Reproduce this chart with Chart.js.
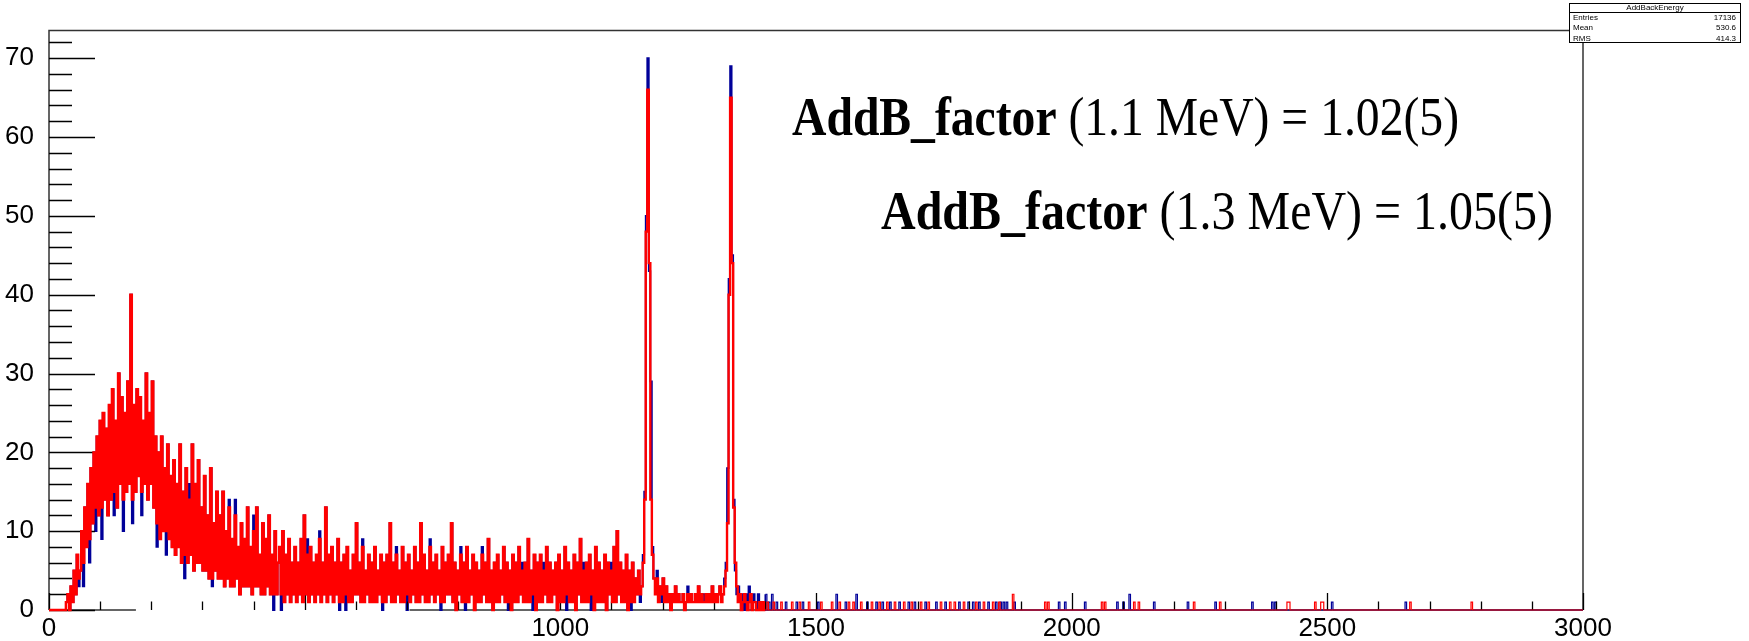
<!DOCTYPE html>
<html>
<head>
<meta charset="utf-8">
<title>AddBackEnergy</title>
<script src="https://cdn.jsdelivr.net/npm/chart.js@4.4.1/dist/chart.umd.min.js"></script>
<style>
  html, body { margin: 0; padding: 0; background: #fff; }
  #wrap { width: 1749px; height: 641px; }
</style>
</head>
<body>
<div id="wrap"><canvas id="c" width="1749" height="641"></canvas></div>
<script>
// histogram binning: 3 keV per bin, 0..3000 keV
const BIN_KEV = 3;
const N_BINS = 1000;

// AddBackEnergy (red), dense part 0..1419 keV, one row = 30 keV
const redCounts = [
  0,0,0,0,0,0,0,0,0,0,            // 0
  0,1,2,0,3,1,5,2,7,4,            // 30
  5,10,6,13,8,16,9,18,11,20,      // 60
  13,22,12,24,13,25,14,23,12,26,  // 90
  14,28,15,24,13,30,16,27,14,25,  // 120
  15,29,16,40,14,26,15,28,17,27,  // 150
  15,24,16,30,14,25,16,29,13,22,  // 180
  11,20,9,22,10,18,10,21,9,17,    // 210
  8,19,7,16,8,21,6,15,7,18,       // 240
  6,14,7,21,5,16,6,19,6,13,       // 270
  5,17,5,12,4,18,4,11,5,15,       // 300
  4,12,4,15,3,10,4,13,3,9,        // 330
  3,12,4,8,2,11,3,9,3,13,         // 360
  3,8,2,10,3,13,3,7,2,11,         // 390
  2,9,3,12,2,7,2,10,2,6,          // 420
  8,2,10,1,7,2,9,1,6,2,           // 450
  8,1,6,2,9,1,12,2,7,1,           // 480
  8,2,6,1,7,2,9,1,6,2,            // 510
  13,1,7,2,8,1,6,2,9,1,           // 540
  6,1,7,2,8,1,5,1,7,2,            // 570
  11,2,6,1,8,1,5,2,7,1,           // 600
  6,1,8,1,5,2,7,1,6,1,            // 630
  7,2,11,1,6,1,7,2,5,1,           // 660
  8,1,6,2,7,1,5,2,8,1,            // 690
  6,1,11,2,7,1,5,1,8,2,           // 720
  6,1,7,2,5,1,8,1,6,2,            // 750
  7,2,11,1,6,0,5,2,7,1,           // 780
  6,1,8,1,5,2,7,0,6,1,            // 810
  5,1,7,2,6,1,9,1,5,0,            // 840
  6,1,7,1,5,2,8,1,6,1,            // 870
  5,0,7,1,6,1,8,2,5,1,            // 900
  6,1,9,1,5,2,7,0,6,1,            // 930
  7,1,5,2,8,1,6,1,5,2,            // 960
  6,0,7,1,5,1,8,2,6,1,            // 990
  5,1,7,0,6,2,9,1,5,1,            // 1020
  6,1,7,2,5,0,8,1,6,1,            // 1050
  5,1,7,0,6,2,5,1,8,1,            // 1080
  10,2,6,1,5,1,7,0,5,1,           // 1110
  6,1,4,2,5,2,3,6,14,48,          // 1140
  66,44,14,7,4,2,4,1,3,2,         // 1170
  4,1,3,1,2,0,2,1,3,1,            // 1200
  2,1,1,2,0,1,2,1,2,1,            // 1230
  1,2,1,3,1,2,1,1,2,1,            // 1260
  2,1,3,1,2,1,2,3,1,2,            // 1290
  3,5,11,40,65,44,13,6,3,1,       // 1320
  2,0,1,2,1,0,1,2,0,1,            // 1350
  1,0,0,1,0,1,0,0,1,0,            // 1380
  0,0,1                           // 1410
];

// second spectrum (blue), same binning; mostly hidden under the red one
const blueCounts = [
  0,0,0,0,0,0,0,0,0,0,            // 0
  0,1,2,0,3,1,5,2,7,3,            // 30
  5,10,3,13,8,16,6,18,11,20,      // 60
  10,22,12,24,9,25,14,23,12,26,   // 90
  14,28,12,24,13,30,16,27,10,25,  // 120
  15,29,16,40,11,26,15,28,17,27,  // 150
  12,24,16,30,14,25,16,29,13,22,  // 180
  8,20,9,22,10,18,7,21,9,17,      // 210
  8,19,7,16,8,21,6,15,4,18,       // 240
  6,16,7,21,5,16,6,19,6,13,       // 270
  5,17,5,12,4,18,3,11,5,15,       // 300
  4,12,4,15,3,10,4,14,3,9,        // 330
  3,14,4,8,2,11,3,9,3,13,         // 360
  3,8,2,12,3,13,3,7,2,11,         // 390
  2,9,3,12,2,7,0,10,2,6,          // 420
  8,0,10,1,7,2,9,1,6,2,           // 450
  8,1,6,2,9,1,12,2,9,1,           // 480
  8,2,6,1,7,2,10,1,6,2,           // 510
  13,1,7,2,8,1,6,2,9,0,           // 540
  6,1,7,0,8,1,5,1,7,2,            // 570
  11,2,6,1,9,1,5,2,7,1,           // 600
  6,1,8,1,5,2,7,0,6,1,            // 630
  7,2,11,1,6,1,8,2,5,1,           // 660
  8,1,6,0,7,1,5,2,8,1,            // 690
  6,1,11,2,7,1,5,1,9,2,           // 720
  6,1,7,2,5,0,8,1,6,2,            // 750
  7,2,11,1,6,0,5,2,8,1,           // 780
  6,0,8,1,5,2,7,0,6,1,            // 810
  5,1,8,2,6,1,9,1,5,0,            // 840
  6,1,7,1,5,2,8,1,6,0,            // 870
  5,0,7,1,6,1,8,2,6,1,            // 900
  6,1,9,1,5,0,7,0,6,1,            // 930
  7,1,6,2,8,1,6,1,5,2,            // 960
  6,0,7,1,5,1,8,0,6,1,            // 990
  5,1,7,0,6,2,9,1,6,1,            // 1020
  6,1,7,0,5,0,8,1,6,1,            // 1050
  5,1,7,0,6,2,6,1,8,1,            // 1080
  10,2,6,1,5,1,7,0,5,0,           // 1110
  6,1,4,2,5,1,3,7,15,50,          // 1140
  70,43,29,8,4,3,5,2,3,1,         // 1170
  4,1,3,2,2,0,2,1,3,1,            // 1200
  2,1,1,2,0,1,3,1,2,1,            // 1230
  1,2,1,3,1,2,2,1,2,1,            // 1260
  2,1,3,1,2,1,2,3,2,2,            // 1290
  4,6,18,42,69,45,14,5,2,3,       // 1320
  1,2,1,0,2,1,3,1,0,2,            // 1350
  1,0,2,1,0,1,0,2,0,1,            // 1380
  0,2,0                           // 1410
];

// isolated counts above 1420 keV
const redTailKeV = [1433, 1452, 1469, 1485, 1511, 1531, 1547, 1563, 1573, 1589, 1609, 1625, 1638, 1655,
  1671, 1687, 1704, 1720, 1743, 1761, 1770, 1788, 1812, 1827, 1845, 1857, 1885, 1947, 1953, 2058, 2064,
  2123, 2130, 2238, 2291, 2421, 2424, 2476, 2489, 2492, 2662, 2783];
const redTailCount = [1, 1, 1, 1, 1, 1, 1, 1, 1, 1, 1, 1, 1, 1,
  1, 1, 1, 1, 1, 1, 1, 1, 1, 1, 1, 1, 2, 1, 1, 1, 1,
  1, 1, 1, 1, 1, 1, 1, 1, 1, 1, 1];
const blueTailKeV = [1423, 1440, 1462, 1475, 1505, 1539, 1557, 1580, 1599, 1619, 1629, 1645, 1664, 1681,
  1694, 1713, 1734, 1752, 1779, 1797, 1806, 1818, 1836, 1851, 1860, 1866, 1872, 1888, 1975, 1988, 2025,
  2090, 2100, 2113, 2162, 2228, 2280, 2352, 2391, 2398, 2509, 2653];
const blueTailCount = [1, 1, 1, 1, 1, 2, 1, 2, 1, 1, 1, 1, 1, 1,
  1, 1, 1, 1, 1, 1, 1, 1, 1, 1, 1, 1, 1, 1, 1, 1, 1,
  1, 1, 2, 1, 1, 1, 1, 1, 1, 1, 1];

// axis labels
const xLabelValues = [0, 1000, 1500, 2000, 2500, 3000];
const yLabelValues = [0, 10, 20, 30, 40, 50, 60, 70];

// stats box and annotation text
const statsTitle = 'AddBackEnergy';
const statsNames = ['Entries', 'Mean', 'RMS'];
const statsValues = ['17136', '530.6', '414.3'];
const noteBold = ['AddB_factor', 'AddB_factor'];
const noteRest = [' (1.1 MeV) = 1.02(5)', ' (1.3 MeV) = 1.05(5)'];

function histPoints(main, tailKeV, tailCount) {
  const counts = new Array(N_BINS).fill(0);
  main.forEach((c, i) => { counts[i] = c; });
  tailKeV.forEach((e, k) => { counts[Math.floor(e / BIN_KEV)] = tailCount[k]; });
  const pts = counts.map((c, i) => ({ x: i * BIN_KEV, y: c }));
  pts.push({ x: N_BINS * BIN_KEV, y: counts[N_BINS - 1] });
  return pts;
}

const SANS = "'Liberation Sans', Arial, Helvetica, sans-serif";
const SERIF = "'Liberation Serif', 'Times New Roman', serif";

// ROOT-like frame, inward ticks, stats box and text
const rootFrame = {
  id: 'rootFrame',
  beforeDatasetsDraw(chart) {
    const { ctx, chartArea: a } = chart;
    const xs = chart.scales.x;
    ctx.save();
    ctx.strokeStyle = '#333';
    ctx.lineWidth = 1.5;
    ctx.beginPath();
    ctx.moveTo(a.left, a.bottom);
    ctx.lineTo(a.left, a.top);
    ctx.lineTo(a.right, a.top);
    ctx.lineTo(a.right, a.bottom);
    // bottom line is blanked between ~170 and ~705 keV in the original
    ctx.moveTo(a.left, a.bottom);
    ctx.lineTo(xs.getPixelForValue(170), a.bottom);
    ctx.moveTo(xs.getPixelForValue(705), a.bottom);
    ctx.lineTo(a.right, a.bottom);
    ctx.stroke();
    ctx.restore();
  },
  afterDatasetDraw(chart, args) {
    if (args.index !== 1) return; // ticks sit between the two histograms
    const { ctx, chartArea: a } = chart;
    const xs = chart.scales.x, ys = chart.scales.y;
    ctx.save();
    ctx.strokeStyle = '#000';
    ctx.lineWidth = 1.3;
    ctx.beginPath();
    for (let v = 0; v <= 72; v += 2) {
      const y = Math.round(ys.getPixelForValue(v)) + 0.5;
      const len = v % 10 === 0 ? 46 : 23;
      ctx.moveTo(a.left, y);
      ctx.lineTo(a.left + len, y);
    }
    for (let v = 0; v <= 3000; v += 100) {
      const x = Math.round(xs.getPixelForValue(v)) + 0.5;
      const len = v % 500 === 0 ? 17 : 8.5;
      ctx.moveTo(x, a.bottom);
      ctx.lineTo(x, a.bottom - len);
    }
    ctx.stroke();
    ctx.restore();
  },
  afterDraw(chart) {
    const ctx = chart.ctx;
    ctx.save();
    // stats box
    ctx.fillStyle = '#fff';
    ctx.fillRect(1569, 3, 172, 40);
    ctx.strokeStyle = '#000';
    ctx.lineWidth = 1;
    ctx.strokeRect(1569.5, 3.5, 171, 39);
    ctx.beginPath();
    ctx.moveTo(1569.5, 12.5);
    ctx.lineTo(1740.5, 12.5);
    ctx.stroke();
    ctx.fillStyle = '#000';
    ctx.font = `8px ${SANS}`;
    ctx.textBaseline = 'middle';
    ctx.textAlign = 'center';
    ctx.fillText(statsTitle, 1655, 8);
    const rowY = [17.5, 28, 38.5];
    statsNames.forEach((n, i) => {
      ctx.textAlign = 'left';
      ctx.fillText(n, 1573, rowY[i]);
      ctx.textAlign = 'right';
      ctx.fillText(statsValues[i], 1736, rowY[i]);
    });

    // annotation text, squeezed horizontally like the original
    const lines = [
      { x: 792, base: 135, w: 667 },
      { x: 881, base: 229, w: 672 }
    ];
    ctx.textBaseline = 'alphabetic';
    ctx.textAlign = 'left';
    lines.forEach((ln, i) => {
      ctx.font = `bold 55px ${SERIF}`;
      const wb = ctx.measureText(noteBold[i]).width;
      ctx.font = `55px ${SERIF}`;
      const wr = ctx.measureText(noteRest[i]).width;
      const k = ln.w / (wb + wr);
      ctx.save();
      ctx.translate(ln.x, ln.base);
      ctx.scale(k, 1);
      ctx.font = `bold 55px ${SERIF}`;
      ctx.fillText(noteBold[i], 0, 0);
      ctx.font = `55px ${SERIF}`;
      ctx.fillText(noteRest[i], wb, 0);
      ctx.restore();
    });
    ctx.restore();
  }
};

// thicker strokes in the dense part so the noise band reads as a solid fill
const denseWidth = (w) => (c) => (c.p0.parsed.x < 1400 ? w : 1.2);

new Chart(document.getElementById('c'), {
  type: 'line',
  data: {
    datasets: [
      {
        label: 'AddBack',
        data: histPoints(redCounts, redTailKeV, redTailCount),
        borderColor: '#ff0000',
        borderWidth: 2.4,
        segment: { borderWidth: denseWidth(2.4) },
        stepped: true,
        pointRadius: 0,
        fill: false,
        clip: 4
      },
      {
        label: 'Raw',
        data: histPoints(blueCounts, blueTailKeV, blueTailCount),
        borderColor: '#000099',
        borderWidth: 1.8,
        segment: { borderWidth: denseWidth(1.8) },
        stepped: true,
        pointRadius: 0,
        fill: false,
        clip: 4
      }
    ]
  },
  options: {
    responsive: false,
    animation: false,
    parsing: false,
    normalized: true,
    events: [],
    layout: { padding: { top: 28, right: 166, left: 0, bottom: 0 } },
    plugins: { legend: { display: false }, tooltip: { enabled: false } },
    scales: {
      x: {
        type: 'linear',
        min: 0,
        max: 3000,
        border: { display: false },
        grid: { display: false, drawTicks: false },
        afterFit: (s) => { s.height = 31; },
        afterBuildTicks: (s) => { s.ticks = xLabelValues.map((v) => ({ value: v })); },
        ticks: {
          autoSkip: false,
          maxRotation: 0,
          padding: 3,
          color: '#000',
          font: { family: SANS, size: 26 },
          callback: (v) => String(v)
        }
      },
      y: {
        type: 'linear',
        min: 0,
        max: 73.5,
        border: { display: false },
        grid: { display: false, drawTicks: false },
        afterFit: (s) => { s.width = 49; },
        afterBuildTicks: (s) => { s.ticks = yLabelValues.map((v) => ({ value: v })); },
        ticks: {
          autoSkip: false,
          padding: 15,
          color: '#000',
          font: { family: SANS, size: 26 },
          callback: (v) => String(v)
        }
      }
    }
  },
  plugins: [rootFrame]
});
</script>
</body>
</html>
